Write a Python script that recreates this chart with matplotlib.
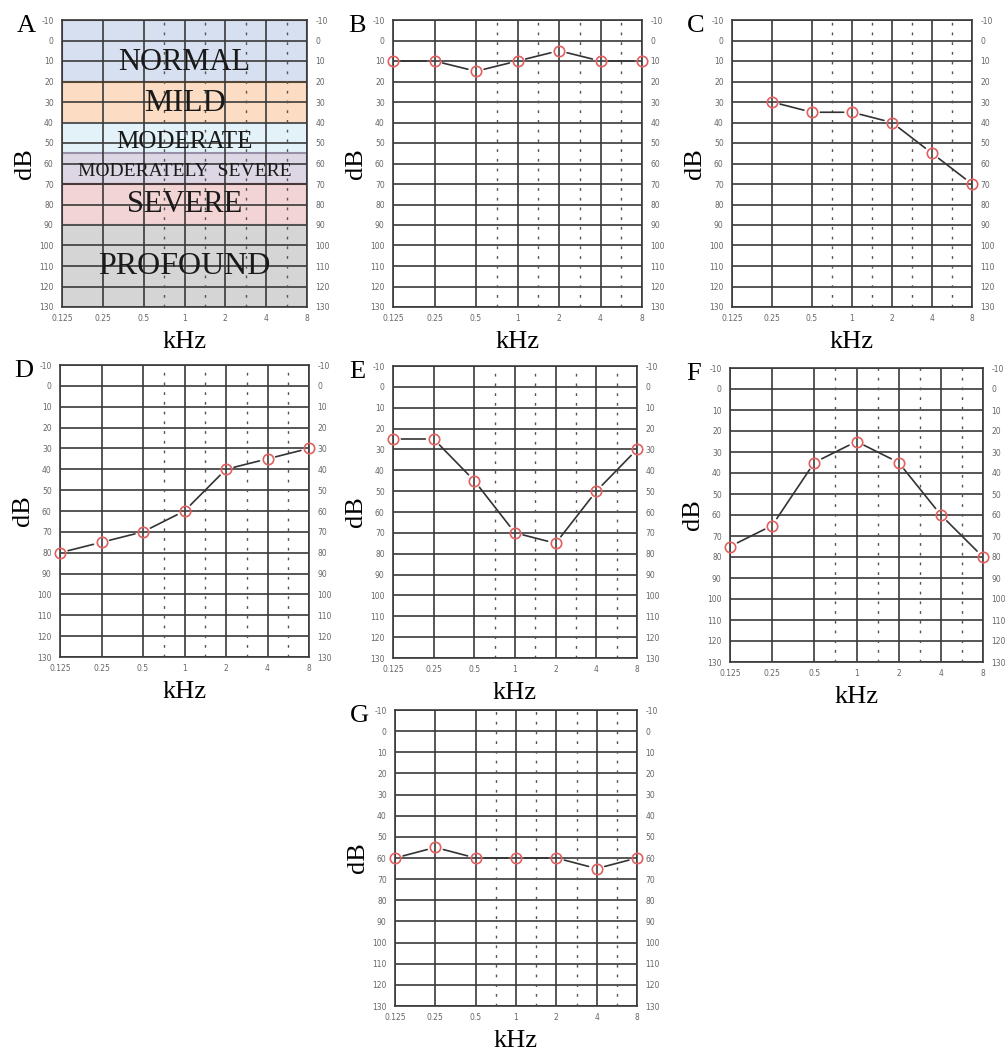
import matplotlib
matplotlib.use("Agg")
import matplotlib.pyplot as plt
from matplotlib.patches import Rectangle

# audiogram frequencies (kHz) and hearing level grid (dB)
freqs = ["0.125", "0.25", "0.5", "1", "2", "4", "8"]
db_ticks = list(range(-10, 131, 10))

# thresholds per panel, None where no point was measured
panel_b = [10, 10, 15, 10, 5, 10, 10]
panel_c = [None, 30, 35, 35, 40, 55, 70]
panel_d = [80, 75, 70, 60, 40, 35, 30]
panel_e = [25, 25, 45, 70, 75, 50, 30]
panel_f = [75, 65, 35, 25, 35, 60, 80]
panel_g = [60, 55, 60, 60, 60, 65, 60]

# degree-of-loss bands for panel A
band_names = ["NORMAL", "MILD", "MODERATE", "MODERATELY  SEVERE", "SEVERE", "PROFOUND"]
band_lo = [-10, 20, 40, 55, 70, 90]
band_hi = [20, 40, 55, 70, 90, 130]
band_fill = ["#d7e0f0", "#fcdcc3", "#e3f1f8", "#ddd7e5", "#f2d4d4", "#d5d5d5"]
band_edge = ["#4f5d80", "#e0873a", "#e3f1f8", "#9a8fa8", "#8a3535", "#d5d5d5"]
band_font = [22, 23, 18, 14, 22, 23]
band_text_y = [10.5, 30.5, 49.5, 64, 80, 110]

W, H = 1005, 1052
SERIF = "Liberation Serif"

fig = plt.figure(figsize=(W / 100, H / 100), dpi=100)


def make_axes(left, top, right, bottom, letter):
    ax = fig.add_axes([left / W, 1 - bottom / H, (right - left) / W, (bottom - top) / H])
    ax.set_xlim(0, len(freqs) - 1)
    ax.set_ylim(130, -10)
    ax.set_xticks(range(len(freqs)))
    ax.set_xticklabels(freqs)
    ax.set_yticks(db_ticks)
    ax.set_yticklabels([str(v) for v in db_ticks])
    ax.tick_params(axis="both", length=0, labelsize=5.5, labelcolor="#666666", pad=5)
    ax.tick_params(axis="y", labelleft=True, labelright=True, pad=6)
    for v in db_ticks:
        ax.axhline(v, color="#3a3a3a", lw=1.2, zorder=2)
    for i in range(len(freqs)):
        ax.axvline(i, color="#3a3a3a", lw=1.2, zorder=2)
    for i in range(2, len(freqs) - 1):
        ax.axvline(i + 0.5, color="#555555", lw=1.0, ls=(0, (2, 5)), zorder=2)
    for s in ax.spines.values():
        s.set_color("#3a3a3a")
        s.set_linewidth(1.2)
    w = right - left
    ax.set_ylabel("dB", fontfamily=SERIF, fontsize=19)
    ax.yaxis.set_label_coords(-26 / w, 0.5)
    ax.set_xlabel("kHz", fontfamily=SERIF, fontsize=19, labelpad=6)
    ax.text(-36 / w, 1 - 6 / (bottom - top), letter, transform=ax.transAxes,
            fontfamily=SERIF, fontsize=19, ha="center", va="center")
    return ax


def draw_thresholds(ax, values):
    pts = [(i, v) for i, v in enumerate(values) if v is not None]
    for (x0, y0), (x1, y1) in zip(pts[:-1], pts[1:]):
        ax.annotate("", xy=(x1, y1), xytext=(x0, y0),
                    arrowprops=dict(arrowstyle="-", color="#333333", lw=1.2,
                                    shrinkA=6, shrinkB=6), zorder=4)
    xs = [p[0] for p in pts]
    ys = [p[1] for p in pts]
    ax.plot(xs, ys, ls="none", marker="o", ms=7.5, mfc="none", mec="#e06060",
            mew=1.2, clip_on=False, zorder=5)


# panel A: degree-of-loss bands
ax_a = make_axes(62, 20, 307, 307, "A")
for name, lo, hi, fc, ec, fs, ty in zip(band_names, band_lo, band_hi, band_fill,
                                        band_edge, band_font, band_text_y):
    ax_a.add_patch(Rectangle((0, lo), len(freqs) - 1, hi - lo, facecolor=fc,
                             edgecolor=ec, lw=1.5, zorder=1))
    ax_a.text(3, ty, name, fontfamily=SERIF, fontsize=fs, ha="center", va="center",
              color="#1a1a1a", zorder=6)

ax_b = make_axes(393, 20, 642, 307, "B")
draw_thresholds(ax_b, panel_b)

ax_c = make_axes(732, 20, 972, 307, "C")
draw_thresholds(ax_c, panel_c)

ax_d = make_axes(60, 365, 309, 657, "D")
draw_thresholds(ax_d, panel_d)

ax_e = make_axes(393, 366, 637, 658, "E")
draw_thresholds(ax_e, panel_e)

ax_f = make_axes(730, 368, 983, 662, "F")
draw_thresholds(ax_f, panel_f)

ax_g = make_axes(395, 710, 637, 1006, "G")
draw_thresholds(ax_g, panel_g)

fig.savefig("out.png", dpi=100, facecolor="white")
